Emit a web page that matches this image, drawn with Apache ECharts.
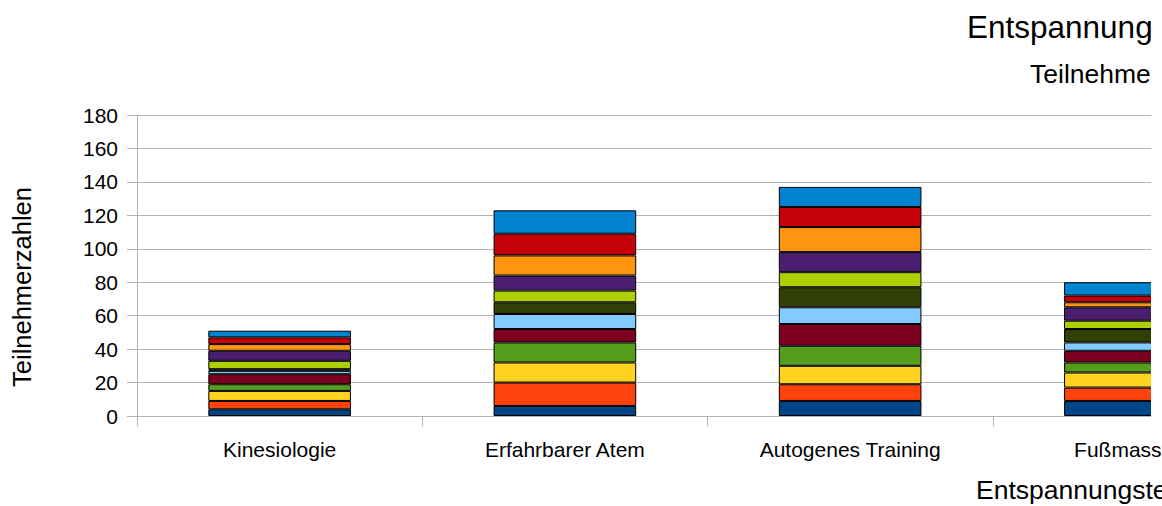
<!DOCTYPE html>
<html>
<head>
<meta charset="utf-8">
<script src="https://cdn.jsdelivr.net/npm/echarts@6/dist/echarts.min.js"></script>
<style>
  html, body { margin: 0; padding: 0; background: #fff; overflow: hidden; }
  #wrap { position: relative; width: 1162px; height: 506px; overflow: hidden; }
  #chart {
    position: absolute; left: 0; top: 0; width: 1300px; height: 506px;
    clip-path: polygon(0 0, 1151px 0, 1151px 430px, 1162px 430px, 1162px 506px, 0 506px);
  }
</style>
</head>
<body>
<div id="wrap"><div id="chart"></div></div>
<script>
// Categories (x axis)
const categories = ["Kinesiologie", "Erfahrbarer Atem", "Autogenes Training", "Fußmassage"];

// Stacked segment values per category, bottom to top (12 stacked series)
const kinesiologie      = [4, 5, 6, 4, 6, 2, 1, 5, 6, 4, 4, 4];
const erfahrbarerAtem   = [6, 14, 12, 12, 8, 9, 7, 7, 9, 12, 13, 14];
const autogenesTraining = [9, 10, 11, 12, 13, 10, 12, 9, 12, 15, 12, 12];
const fussmassage       = [9, 8, 9, 6, 7, 5, 8, 5, 8, 3, 4, 8];

// Series names (legend not visible in the crop)
const seriesNames = ["Gruppe 1", "Gruppe 2", "Gruppe 3", "Gruppe 4", "Gruppe 5", "Gruppe 6",
                     "Gruppe 7", "Gruppe 8", "Gruppe 9", "Gruppe 10", "Gruppe 11", "Gruppe 12"];

// Y axis ticks
const yMin = 0, yMax = 180, yStep = 20;

// Texts
const titleText = "Entspannungstechniken";
const subtitleText = "Teilnehmerzahlen";
const xAxisName = "Entspannungstechniken";
const yAxisName = "Teilnehmerzahlen";

const colors = ["#004586", "#ff420e", "#ffd320", "#579d1c", "#7e0021", "#83caff",
                "#314004", "#aecf00", "#4b1f6f", "#ff950e", "#c5000b", "#0084d1"];

const byCategory = [kinesiologie, erfahrbarerAtem, autogenesTraining, fussmassage];
const FONT = "'Liberation Sans', Arial, sans-serif";

const series = seriesNames.map((name, i) => ({
  name: name,
  type: 'bar',
  stack: 'total',
  barWidth: '50%',
  data: byCategory.map(c => c[i]),
  itemStyle: { color: colors[i], borderColor: '#000', borderWidth: 1 },
  emphasis: { disabled: true }
}));

const chart = echarts.init(document.getElementById('chart'), null, { renderer: 'svg' });
chart.setOption({
  animation: false,
  backgroundColor: '#fff',
  color: colors,
  textStyle: { fontFamily: FONT },
  title: [
    { text: titleText, left: 962, top: 6,
      textStyle: { fontFamily: FONT, fontSize: 31.5, fontWeight: 'normal', color: '#000' } },
    { text: subtitleText, left: 1025, top: 55,
      textStyle: { fontFamily: FONT, fontSize: 26.5, fontWeight: 'normal', color: '#000' } }
  ],
  grid: { left: 137, top: 115, width: 1141, bottom: 90, containLabel: false },
  xAxis: {
    type: 'category',
    data: categories,
    boundaryGap: true,
    axisLine: { show: true, lineStyle: { color: '#b3b3b3', width: 1 } },
    axisTick: { show: true, length: 10, lineStyle: { color: '#b3b3b3' } },
    axisLabel: { color: '#000', fontSize: 21, fontFamily: FONT, margin: 23, interval: 0 },
    splitLine: { show: false }
  },
  yAxis: {
    type: 'value',
    min: yMin, max: yMax, interval: yStep,
    axisLine: { show: true, lineStyle: { color: '#b3b3b3', width: 1 } },
    axisTick: { show: true, length: 10, lineStyle: { color: '#b3b3b3' } },
    axisLabel: { color: '#000', fontSize: 21, fontFamily: FONT, margin: 19 },
    splitLine: { show: true, lineStyle: { color: '#b3b3b3', width: 1 } }
  },
  graphic: [
    { type: 'text', left: 976, top: 476,
      style: { text: xAxisName, fontSize: 26.5, fontFamily: FONT, fill: '#000' } },
    { type: 'text', x: 22, y: 287, rotation: Math.PI / 2,
      style: { text: yAxisName, fontSize: 25.5, fontFamily: FONT, fill: '#000',
               align: 'center', verticalAlign: 'middle' } }
  ],
  series: series
});
</script>
</body>
</html>
